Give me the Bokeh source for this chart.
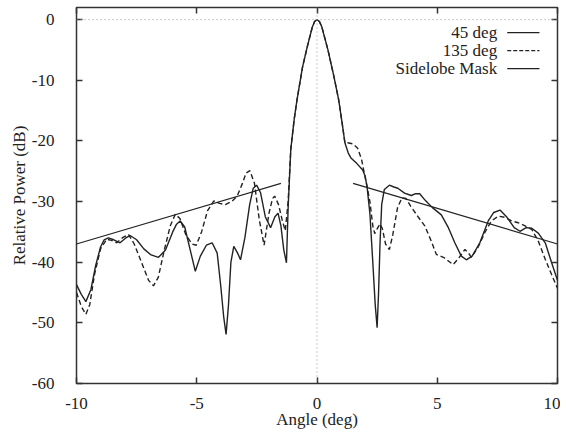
from bokeh.plotting import figure
from bokeh.models import LinearAxis, Range1d, Span, Label, FixedTicker, CustomJSTickFormatter
from bokeh.embed import file_html
from bokeh.resources import INLINE

# ---- data ----
x45 = [-10, -9.8, -9.61, -9.4, -9.2, -9.0, -8.85, -8.68, -8.45, -8.19, -7.95, -7.77, -7.5, -7.2,
       -6.9, -6.59, -6.3, -6.0, -5.85, -5.69, -5.5, -5.3, -5.06, -4.85, -4.6, -4.36, -4.15, -4.0,
       -3.88, -3.78, -3.68, -3.58, -3.46, -3.3, -3.18, -3.0, -2.8, -2.65, -2.51, -2.35, -2.15,
       -1.93, -1.75, -1.62, -1.5, -1.38, -1.27, -1.2, -1.09, -0.95, -0.83, -0.6, -0.4, -0.2, -0.1, 0,
       0.1, 0.2, 0.45, 0.7, 0.9, 1.05, 1.16, 1.3, 1.41, 1.65, 1.9, 2.0, 2.08, 2.2, 2.32, 2.42, 2.5,
       2.56, 2.62, 2.69, 2.8, 3.01, 3.2, 3.36, 3.64, 3.92, 4.1, 4.27, 4.5, 4.8, 5.17, 5.45, 5.73,
       6.0, 6.21, 6.45, 6.77, 7.12, 7.35, 7.61, 7.9, 8.2, 8.44, 8.7, 8.93, 9.2, 9.49, 9.75, 10]
y45 = [-43.7, -45.3, -46.5, -44.5, -40.5, -37.5, -36.3, -36.0, -36.3, -36.8, -36.0, -35.6, -36.3, -37.8,
       -38.8, -39.2, -38.0, -35.0, -33.8, -33.2, -34.2, -37.5, -41.5, -39.0, -37.2, -36.8, -38.5, -44.0,
       -49.0, -51.9, -47.0, -40.0, -37.4, -38.5, -39.6, -36.0, -30.5, -27.8, -27.3, -28.5, -32.5,
       -34.3, -32.5, -31.9, -34.0, -38.0, -40.1, -31.0, -21.4, -16.5, -13.2, -7.8, -4.4, -1.3, -0.3, 0,
       -0.3, -1.2, -4.9, -9.3, -13.2, -17.2, -20.3, -22.0, -22.8, -23.7, -24.8, -25.8, -27.5, -32.0, -40.0, -47.0, -50.8,
       -45.0, -37.0, -30.5, -28.0, -27.3, -27.6, -27.8, -28.6, -29.0, -28.7, -28.7, -29.8, -31.0, -32.2, -34.2, -36.8,
       -39.0, -39.6, -39.0, -36.8, -33.2, -31.8, -31.4, -32.6, -34.3, -34.9, -34.3, -34.4, -35.2, -36.8, -40.0, -43.0]

x135 = [-10, -9.8, -9.61, -9.45, -9.25, -9.0, -8.75, -8.55, -8.33, -8.1, -7.84, -7.6, -7.3, -7.0,
        -6.8, -6.6, -6.35, -6.1, -5.89, -5.7, -5.45, -5.2, -5.02, -4.8, -4.55, -4.29, -4.05, -3.81,
        -3.55, -3.32, -3.1, -2.95, -2.79, -2.6, -2.4, -2.2, -2.0, -1.85, -1.76, -1.6, -1.45, -1.32,
        -1.2, -1.09, -0.95, -0.83, -0.6, -0.4, -0.2, -0.1, 0, 0.1, 0.2, 0.45, 0.7, 0.9, 1.05, 1.16, 1.27, 1.5,
        1.69, 1.85, 1.95, 2.08, 2.2, 2.32, 2.4, 2.5, 2.62, 2.72, 2.85, 3.01, 3.15, 3.35, 3.53, 3.7,
        3.9, 4.2, 4.48, 4.75, 4.96, 5.3, 5.66, 5.9, 6.15, 6.3, 6.42, 6.7, 6.98, 7.25, 7.54, 7.8,
        8.1, 8.37, 8.65, 8.93, 9.2, 9.49, 9.75, 10]
y135 = [-45.0, -47.3, -48.6, -47.0, -42.0, -37.8, -36.2, -36.4, -36.8, -36.0, -35.4, -37.0, -40.0, -43.0,
        -43.9, -42.5, -38.0, -34.0, -32.1, -32.8, -35.5, -37.0, -37.2, -35.0, -31.5, -29.9, -30.3, -30.5,
        -30.0, -29.1, -27.0, -25.3, -24.9, -27.0, -33.0, -37.2, -32.0, -29.5, -29.1, -30.5, -33.0, -34.8,
        -30.0, -21.4, -16.5, -13.2, -7.8, -4.4, -1.3, -0.3, 0, -0.3, -1.2, -4.9, -9.3, -13.2, -17.2, -20.3, -20.3, -20.5,
        -21.2, -23.0, -25.0, -27.5, -30.0, -34.0, -35.3, -34.5, -33.7, -34.5, -37.0, -37.9, -35.5, -31.0, -29.4, -29.5,
        -30.8, -32.5, -34.0, -36.5, -38.7, -39.3, -40.4, -39.3, -37.9, -38.5, -39.2, -37.5, -35.1, -33.2, -32.4, -32.6,
        -33.2, -33.5, -34.0, -34.6, -36.5, -39.5, -42.0, -44.3]

mask_left_x = [-10, -1.5]
mask_left_y = [-37, -27]
mask_right_x = [1.5, 10]
mask_right_y = [-27, -37]

x_ticks = [-10, -5, 0, 5, 10]
y_ticks = [0, -10, -20, -30, -40, -50, -60]
legend_labels = ["45 deg", "135 deg", "Sidelobe Mask"]

FONT = "Liberation Serif"
INK = "#222222"
FS = "17px"

p = figure(width=560, height=431, output_backend="svg", toolbar_location=None,
           x_range=Range1d(-10, 10), y_range=Range1d(-60, 2),
           min_border_left=76, min_border_right=3, min_border_top=7, min_border_bottom=44)
p.xgrid.visible = False
p.ygrid.visible = False
p.outline_line_color = "#333333"
p.outline_line_width = 1.5
p.background_fill_color = "white"
p.border_fill_color = "white"

def style_axis(ax, show_labels):
    ax.axis_line_color = None
    ax.major_tick_in = 6
    ax.major_tick_out = 0
    ax.minor_tick_line_color = None
    ax.major_tick_line_color = "#333333"
    ax.major_tick_line_width = 1.5
    ax.major_label_text_font = FONT
    ax.major_label_text_color = INK
    ax.axis_label_text_font = FONT
    ax.axis_label_text_font_style = "normal"
    ax.axis_label_text_color = INK
    if show_labels:
        ax.major_label_text_font_size = FS
        ax.axis_label_text_font_size = FS
        ax.formatter = CustomJSTickFormatter(code="return String(tick);")
    else:
        ax.formatter = CustomJSTickFormatter(code="return '';")
        ax.major_label_standoff = 0

style_axis(p.xaxis[0], True)
style_axis(p.yaxis[0], True)
p.xaxis[0].ticker = FixedTicker(ticks=x_ticks)
p.yaxis[0].ticker = FixedTicker(ticks=y_ticks)
p.xaxis[0].axis_label = "Angle (deg)"
p.yaxis[0].axis_label = "Relative Power (dB)"
p.xaxis[0].major_label_standoff = 14
p.xaxis[0].axis_label_standoff = -2
p.yaxis[0].major_label_standoff = 22
p.yaxis[0].axis_label_standoff = 0

top = LinearAxis(ticker=FixedTicker(ticks=x_ticks))
right = LinearAxis(ticker=FixedTicker(ticks=y_ticks))
style_axis(top, False)
style_axis(right, False)
p.add_layout(top, "above")
p.add_layout(right, "right")

p.add_layout(Span(location=0, dimension="width", line_color="#999999", line_dash="1 3", line_width=1))
p.add_layout(Span(location=0, dimension="height", line_color="#999999", line_dash="1 3", line_width=1))

p.line(x45, y45, line_color=INK, line_width=1.4)
p.line(x135, y135, line_color=INK, line_width=1.4, line_dash="5 3")
p.line(mask_left_x, mask_left_y, line_color=INK, line_width=1.2)
p.line(mask_right_x, mask_right_y, line_color=INK, line_width=1.2)

# manual key (text then sample line, as in the original)
key_text_x = 7.49
key_line_x = [7.91, 9.25]
key_rows = [-2.14, -5.11, -8.07]
dashes = ["solid", "4 2", "solid"]
for lab, yy, d in zip(legend_labels, key_rows, dashes):
    p.add_layout(Label(x=key_text_x, y=yy, text=lab, text_align="right", text_baseline="middle",
                       text_font=FONT, text_font_size=FS, text_color=INK))
    p.line(key_line_x, [yy, yy], line_color=INK, line_width=1.2, line_dash=d)

open("out.html", "w").write(file_html(p, INLINE))
